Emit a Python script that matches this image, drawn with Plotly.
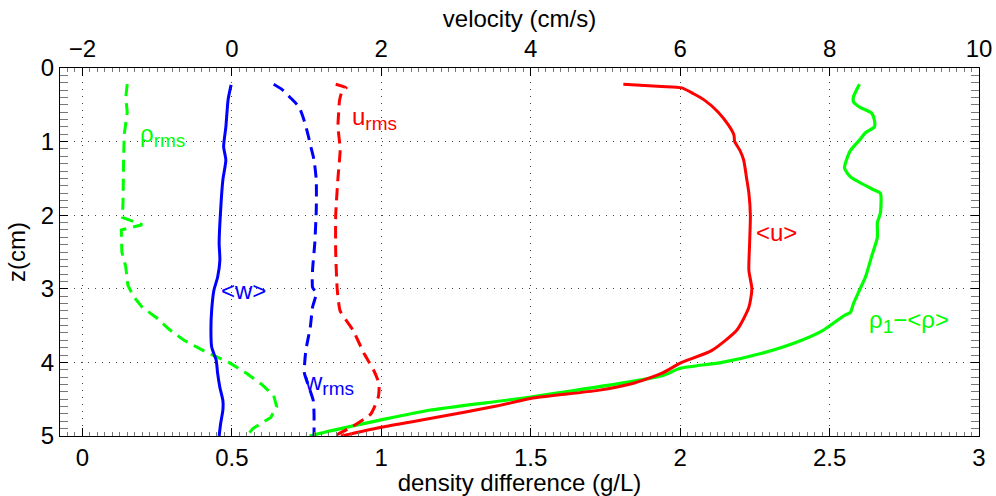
import plotly.graph_objects as go

# ---------------- data ----------------
# density-axis series (g/L), bottom axis
z_rho_mean = [0.22, 0.30, 0.39, 0.46, 0.53, 0.61, 0.71, 0.80, 0.88, 0.98, 1.12, 1.21, 1.36,
              1.48, 1.66, 1.70, 1.97, 2.10, 2.30, 2.57, 2.84, 3.02, 3.20, 3.32, 3.36, 3.56,
              3.74, 3.88, 4.00, 4.08, 4.18, 4.47, 4.65, 4.78, 4.93, 5.00]
rho_mean = [2.60, 2.59, 2.58, 2.58, 2.60, 2.64, 2.65, 2.65, 2.62, 2.60, 2.57, 2.56, 2.55,
            2.57, 2.65, 2.67, 2.67, 2.66, 2.66, 2.64, 2.62, 2.60, 2.58, 2.57, 2.55, 2.48,
            2.38, 2.27, 2.14, 2.00, 1.94, 1.50, 1.16, 1.00, 0.83, 0.76]

z_rho_rms = [0.22, 0.40, 0.60, 0.90, 1.20, 1.50, 1.80, 2.03, 2.13, 2.20, 2.30, 2.50, 2.70,
             2.95, 3.10, 3.25, 3.40, 3.55, 3.70, 3.85, 4.00, 4.15, 4.30, 4.45, 4.60, 4.75,
             4.90, 5.00]
rho_rms = [0.15, 0.145, 0.15, 0.14, 0.138, 0.138, 0.136, 0.134, 0.20, 0.13, 0.13, 0.132, 0.145,
           0.152, 0.17, 0.20, 0.25, 0.29, 0.34, 0.41, 0.49, 0.55, 0.60, 0.64, 0.65, 0.63,
           0.57, 0.55]

# velocity-axis series (cm/s), top axis
z_u_mean = [0.22, 0.25, 0.27, 0.35, 0.44, 0.60, 0.78, 0.91, 1.00, 1.12, 1.25, 1.50, 1.70,
            2.00, 2.38, 2.75, 3.00, 3.25, 3.56, 3.84, 4.00, 4.15, 4.29, 4.38, 4.49, 4.59,
            4.76, 4.88, 5.00]
u_mean = [5.24, 5.75, 6.02, 6.18, 6.33, 6.51, 6.65, 6.72, 6.73, 6.80, 6.85, 6.89, 6.92,
          6.94, 6.93, 6.92, 6.96, 6.92, 6.76, 6.42, 6.02, 5.75, 5.35, 4.90, 4.00, 3.56,
          2.67, 2.00, 1.46]

z_u_rms = [0.22, 0.27, 0.33, 0.45, 0.60, 0.80, 1.10, 1.50, 2.00, 2.50, 3.00, 3.30, 3.56,
           3.88, 4.11, 4.29, 4.47, 4.70, 4.88, 5.00]
u_rms = [1.39, 1.53, 1.47, 1.44, 1.43, 1.42, 1.45, 1.42, 1.39, 1.39, 1.41, 1.45, 1.62,
         1.77, 1.90, 1.97, 1.96, 1.86, 1.60, 1.37]

z_w_mean = [0.23, 0.43, 0.80, 1.07, 1.25, 1.52, 1.93, 2.38, 2.61, 2.84, 3.02, 3.29, 3.56,
            3.79, 3.97, 4.15, 4.34, 4.52, 4.65, 4.83, 5.00]
w_mean = [-0.01, -0.05, -0.08, -0.11, -0.08, -0.12, -0.15, -0.17, -0.16, -0.19, -0.24, -0.27,
          -0.28, -0.27, -0.21, -0.19, -0.16, -0.12, -0.12, -0.15, -0.17]

z_w_rms = [0.22, 0.29, 0.40, 0.53, 0.72, 0.91, 1.08, 1.25, 1.52, 1.93, 2.38, 2.75, 2.98,
           3.06, 3.25, 3.52, 3.84, 4.14, 4.30, 4.52, 4.70, 5.00]
w_rms = [0.56, 0.67, 0.78, 0.90, 0.97, 1.02, 1.06, 1.10, 1.13, 1.13, 1.11, 1.08, 1.08,
         1.13, 1.08, 1.05, 0.99, 0.97, 1.02, 1.09, 1.10, 1.10]

density_ticks = [0, 0.5, 1, 1.5, 2, 2.5, 3]
velocity_ticks = [-2, 0, 2, 4, 6, 8, 10]
z_ticks = [0, 1, 2, 3, 4, 5]

FONT = "Liberation Sans, Arial, Helvetica, sans-serif"
BLACK = "#000000"
RED, BLUE, GREEN = "#ff0000", "#0000ff", "#00ff00"
DASH = "12px,7px"

fig = go.Figure()

# density traces (bottom axis)
fig.add_trace(go.Scatter(x=rho_rms, y=z_rho_rms, mode="lines", xaxis="x", yaxis="y",
                         line=dict(color=GREEN, width=3, dash=DASH)))
fig.add_trace(go.Scatter(x=rho_mean, y=z_rho_mean, mode="lines", xaxis="x", yaxis="y",
                         line=dict(color=GREEN, width=3.2, shape="spline", smoothing=0.6)))
# velocity traces (top axis)
fig.add_trace(go.Scatter(x=w_mean, y=z_w_mean, mode="lines", xaxis="x2", yaxis="y",
                         line=dict(color=BLUE, width=3, shape="spline", smoothing=0.6)))
fig.add_trace(go.Scatter(x=w_rms, y=z_w_rms, mode="lines", xaxis="x2", yaxis="y",
                         line=dict(color=BLUE, width=3, dash=DASH, shape="spline", smoothing=0.5)))
fig.add_trace(go.Scatter(x=u_rms, y=z_u_rms, mode="lines", xaxis="x2", yaxis="y",
                         line=dict(color=RED, width=3, dash=DASH, shape="spline", smoothing=0.5)))
fig.add_trace(go.Scatter(x=u_mean, y=z_u_mean, mode="lines", xaxis="x2", yaxis="y",
                         line=dict(color=RED, width=3, shape="spline", smoothing=0.6)))

SUB = '<sub><span style="font-size:19px">%s</span></sub>'
labels = [
    ("ρ" + SUB % "rms", 0.19, 0.92, GREEN),
    ("u" + SUB % "rms", 0.90, 0.68, RED),
    ("&lt;w&gt;", 0.46, 3.02, BLUE),
    ("w" + SUB % "rms", 0.738, 4.29, BLUE),
    ("&lt;u&gt;", 2.25, 2.24, RED),
    ("ρ" + SUB % "1" + "−&lt;ρ&gt;", 2.628, 3.44, GREEN),
]
for txt, lx, ly, col in labels:
    fig.add_annotation(text=txt, x=lx, y=ly, xref="x", yref="y", xanchor="left",
                       yanchor="middle", showarrow=False,
                       font=dict(family=FONT, size=24, color=col), borderpad=0)

axis_common = dict(showline=True, linecolor=BLACK, linewidth=1.2, ticks="inside",
                   ticklen=8, tickcolor=BLACK, zeroline=False, automargin=False,
                   tickfont=dict(family=FONT, size=24, color=BLACK))
title_font = dict(family=FONT, size=24, color=BLACK)

fig.update_layout(
    width=996, height=496,
    margin=dict(l=60, r=17, t=68, b=60, autoexpand=False),
    paper_bgcolor="white", plot_bgcolor="white",
    font=dict(family=FONT, color=BLACK),
    showlegend=False,
    xaxis=dict(range=[-0.075, 3], tickmode="array", tickvals=density_ticks,
               ticktext=[("%g" % t) for t in density_ticks],
               showgrid=True, gridcolor="#444444", gridwidth=1, griddash="1px,6px",
               title=dict(text="density difference (g/L)", font=title_font, standoff=2),
               minor=dict(dtick=0.025, ticks="inside", ticklen=4, tickcolor="#777777"),
               anchor="y", side="bottom", mirror=False, **axis_common),
    xaxis2=dict(range=[-2.3, 10], tickmode="array", tickvals=velocity_ticks,
                showgrid=False, overlaying="x", side="top", anchor="y",
                title=dict(text="velocity (cm/s)", font=title_font, standoff=0),
                minor=dict(dtick=0.1, ticks="inside", ticklen=4, tickcolor="#777777"),
                **axis_common),
    yaxis=dict(range=[5, 0], tickmode="array", tickvals=z_ticks,
               showgrid=True, gridcolor="#444444", gridwidth=1, griddash="1px,6px",
               title=dict(text="z(cm)", font=title_font, standoff=8),
               minor=dict(dtick=0.1, ticks="inside", ticklen=4, tickcolor="#777777"),
               mirror="allticks", **axis_common),
)

fig.write_html("out.html", config={"displayModeBar": False},
               post_script="document.body.style.margin='0px';document.body.style.overflow='hidden';")
